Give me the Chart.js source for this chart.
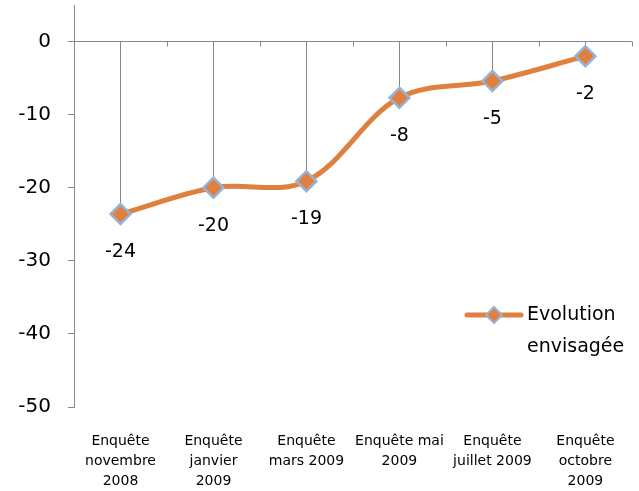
<!DOCTYPE html>
<html>
<head>
<meta charset="utf-8">
<script src="https://cdn.jsdelivr.net/npm/chart.js@4.4.0/dist/chart.umd.min.js"></script>
<style>
  html, body { margin: 0; padding: 0; background: #fff; }
  #wrap { width: 639px; height: 491px; }
</style>
</head>
<body>
<div id="wrap"><canvas id="evolChart"></canvas></div>
<script>
const categories = [
    ['Enquête', 'novembre', '2008'],
    ['Enquête', 'janvier', '2009'],
    ['Enquête', 'mars 2009'],
    ['Enquête mai', '2009'],
    ['Enquête', 'juillet 2009'],
    ['Enquête', 'octobre', '2009']
];
const evolution = [-23.6, -20, -19.1, -7.7, -5.4, -2];
const yTicks = [-50, -40, -30, -20, -10, 0];
const seriesName = ['Evolution', 'envisagée'];

const orange = '#E0803F';
const blue = '#95B3D7';
const gray = '#868686';
const fontFamily = "'DejaVu Sans', sans-serif";

// drop lines from the zero axis to each point, plus the little ticks on the zero axis
const dropLines = {
    id: 'dropLines',
    beforeDatasetsDraw(chart) {
        const ctx = chart.ctx;
        const x = chart.scales.x, y = chart.scales.y;
        const y0 = y.getPixelForValue(0);
        const step = x.getPixelForValue(1) - x.getPixelForValue(0);
        ctx.save();
        ctx.strokeStyle = gray;
        ctx.lineWidth = 1;
        ctx.beginPath();
        evolution.forEach((v, i) => {
            const px = Math.round(x.getPixelForValue(i)) + 0.5;
            ctx.moveTo(px, y0);
            ctx.lineTo(px, y.getPixelForValue(v));
            const bx = Math.round(x.getPixelForValue(i) + step / 2) + 0.5;
            ctx.moveTo(bx, y0);
            ctx.lineTo(bx, y0 + 5);
        });
        ctx.stroke();
        ctx.restore();
    }
};

// value labels under the points and the legend inside the plot
const extras = {
    id: 'extras',
    afterDatasetsDraw(chart) {
        const ctx = chart.ctx;
        const meta = chart.getDatasetMeta(0);
        ctx.save();
        ctx.fillStyle = '#000';
        ctx.font = '19px ' + fontFamily;
        ctx.textAlign = 'center';
        ctx.textBaseline = 'middle';
        meta.data.forEach((pt, i) => {
            ctx.fillText(evolution[i].toFixed(0), pt.x, pt.y + 38);
        });

        // legend
        const lx = 467, ly = 315;
        ctx.strokeStyle = orange;
        ctx.lineWidth = 5;
        ctx.lineCap = 'round';
        ctx.beginPath();
        ctx.moveTo(lx, ly);
        ctx.lineTo(lx + 54, ly);
        ctx.stroke();
        const mx = lx + 27, r = 8;
        ctx.beginPath();
        ctx.moveTo(mx, ly - r);
        ctx.lineTo(mx + r, ly);
        ctx.lineTo(mx, ly + r);
        ctx.lineTo(mx - r, ly);
        ctx.closePath();
        ctx.fillStyle = orange;
        ctx.fill();
        ctx.strokeStyle = blue;
        ctx.lineWidth = 2;
        ctx.stroke();
        ctx.fillStyle = '#000';
        ctx.textAlign = 'left';
        ctx.fillText(seriesName[0], 527, ly);
        ctx.fillText(seriesName[1], 527, ly + 32);
        ctx.restore();
    }
};

const ctx = document.getElementById('evolChart');

new Chart(ctx, {
    type: 'line',
    data: {
        labels: categories,
        datasets: [{
            label: seriesName.join(' '),
            data: evolution,
            borderColor: orange,
            borderWidth: 5,
            tension: 0.35,
            pointStyle: 'rectRot',
            pointRadius: 10,
            pointBackgroundColor: orange,
            pointBorderColor: blue,
            pointBorderWidth: 2.5,
            fill: false
        }]
    },
    options: {
        responsive: true,
        maintainAspectRatio: false,
        animation: false,
        events: [],
        layout: {
            autoPadding: false,
            padding: { top: 5, right: 6, left: 0, bottom: 0 }
        },
        plugins: {
            legend: { display: false },
            tooltip: { enabled: false }
        },
        scales: {
            x: {
                offset: true,
                border: { display: false },
                grid: { display: false, drawTicks: false },
                ticks: {
                    color: '#000',
                    font: { family: fontFamily, size: 14, lineHeight: 1.45 },
                    padding: 24,
                    maxRotation: 0,
                    autoSkip: false
                },
                afterFit(scale) { scale.height = 84; }
            },
            y: {
                min: -50,
                max: 5,
                afterBuildTicks(scale) {
                    scale.ticks = yTicks.map(v => ({ value: v }));
                },
                border: { display: true, color: gray, width: 1 },
                grid: {
                    color: c => (c.tick && c.tick.value === 0) ? gray : 'transparent',
                    tickColor: gray,
                    tickLength: 6
                },
                ticks: {
                    color: '#000',
                    font: { family: fontFamily, size: 20 },
                    padding: 17
                },
                afterFit(scale) {
                    scale.width = 74;
                    scale.paddingTop = 0;
                    scale.paddingBottom = 0;
                }
            }
        }
    },
    plugins: [dropLines, extras]
});
</script>
</body>
</html>
